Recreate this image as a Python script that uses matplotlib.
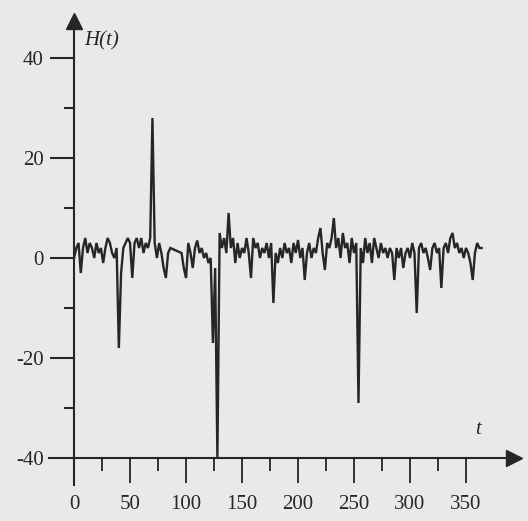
import numpy as np
import matplotlib
matplotlib.use('Agg')
import matplotlib.pyplot as plt
from matplotlib.ticker import FixedLocator

plt.rcParams['font.family'] = ['Liberation Serif', 'DejaVu Serif']
plt.rcParams['axes.unicode_minus'] = False

h_values = [
    0, 2, 3, -3, 2, 4, 1, 3, 2, 0,
    3, 1, 2, -1, 2, 4, 3, 1, 0, 2,
    -18, -3, 2, 3, 4, 3, -4, 3, 4, 2,
    4, 1, 3, 2, 4, 28, 3, 0, 3, 1,
    -2, -4, 1, 2, 1.8, 1.6, 1.4, 1.2, 1, -2,
    -4, 3, 1, -2, 2, 3.5, 1, 2, 0, 1,
    -1, 0, -17, -2, -40, 5, 2, 4, 1, 9,
    2, 4, -1, 3, 0, 2, 1, 4, 1, -4,
    4, 2, 3, 0, 2, 1, 3, 0, 3, -9,
    1, -1, 2, 0, 3, 1, 2, -1, 3, 1,
    3.6, 0, 2, -4.4, 1, 3, 0, 2, 1, 4,
    6, 1, -2.4, 3, 2, 4, 8, 2, 4, 0,
    5, 2, 3, -1, 4, 1, 3, -29, 2, -1,
    4, 1, 3, -1, 4, 2, 0, 3, 1, 2,
    0, 2, 1, -4.4, 2, 0, 2, -2, 1, 2,
    0, 3, 1, -11, 2, 3, 1, 2, 0, -2.4,
    2, 3, 1, 2, -6, 2, 3, 1, 4, 5,
    2, 3, 1, 2, 0, 2, 1, -1, -4.4, 1,
    3, 2, 2,
]
t_values = np.arange(0, 2 * len(h_values), 2)

y_ticks = [-40, -20, 0, 20, 40]
y_minor = [-30, -10, 10, 30]
x_ticks = [0, 50, 100, 150, 200, 250, 300, 350]
x_minor = [25, 75, 125, 175, 225, 275, 325]

ink = '#262626'
paper = '#e9e9e7'

fig = plt.figure(figsize=(5.28, 5.21), dpi=100, facecolor=paper)
ax = fig.add_axes([0.0936, 0.0691, 0.895, 0.9213])
ax.set_facecolor(paper)
ax.set_xlim(-22, 400)
ax.set_ylim(-45.4, 50.6)

ax.plot(t_values, h_values, color=ink, lw=1.7, solid_joinstyle='miter')

# оси
for s in ['top', 'right']:
    ax.spines[s].set_visible(False)
ax.spines['left'].set_position(('data', 0))
ax.spines['bottom'].set_position(('data', -40))
ax.spines['left'].set_bounds(-45.4, 48)
ax.spines['bottom'].set_bounds(-22, 392)
for s in ['left', 'bottom']:
    ax.spines[s].set_linewidth(1.5)
    ax.spines[s].set_color(ink)
ax.plot([0], [47.5], marker='^', ms=11, color=ink, clip_on=False)
ax.plot([393], [-40], marker='>', ms=11, color=ink, clip_on=False)

ax.set_xticks(x_ticks)
ax.set_yticks(y_ticks)
ax.xaxis.set_minor_locator(FixedLocator(x_minor))
ax.yaxis.set_minor_locator(FixedLocator(y_minor))
ax.tick_params(axis='y', which='major', direction='out', length=17, width=1.5, color=ink, pad=5, labelsize=15, labelcolor=ink)
ax.tick_params(axis='y', which='minor', direction='out', length=7, width=1.5, color=ink)
ax.tick_params(axis='x', which='major', direction='out', length=18, width=1.3, color=ink, pad=9, labelsize=15, labelcolor=ink)
ax.tick_params(axis='x', which='minor', direction='out', length=9, width=1.3, color=ink)
ax.yaxis.get_major_ticks()[0].tick1line.set_visible(False)

ax.text(9, 43.5, 'H(t)', fontsize=15, style='italic', color=ink, ha='left', va='center')
ax.text(361, -34.4, 't', fontsize=15, style='italic', color=ink, ha='center', va='center')

fig.savefig('out.png', dpi=100, facecolor=paper)
